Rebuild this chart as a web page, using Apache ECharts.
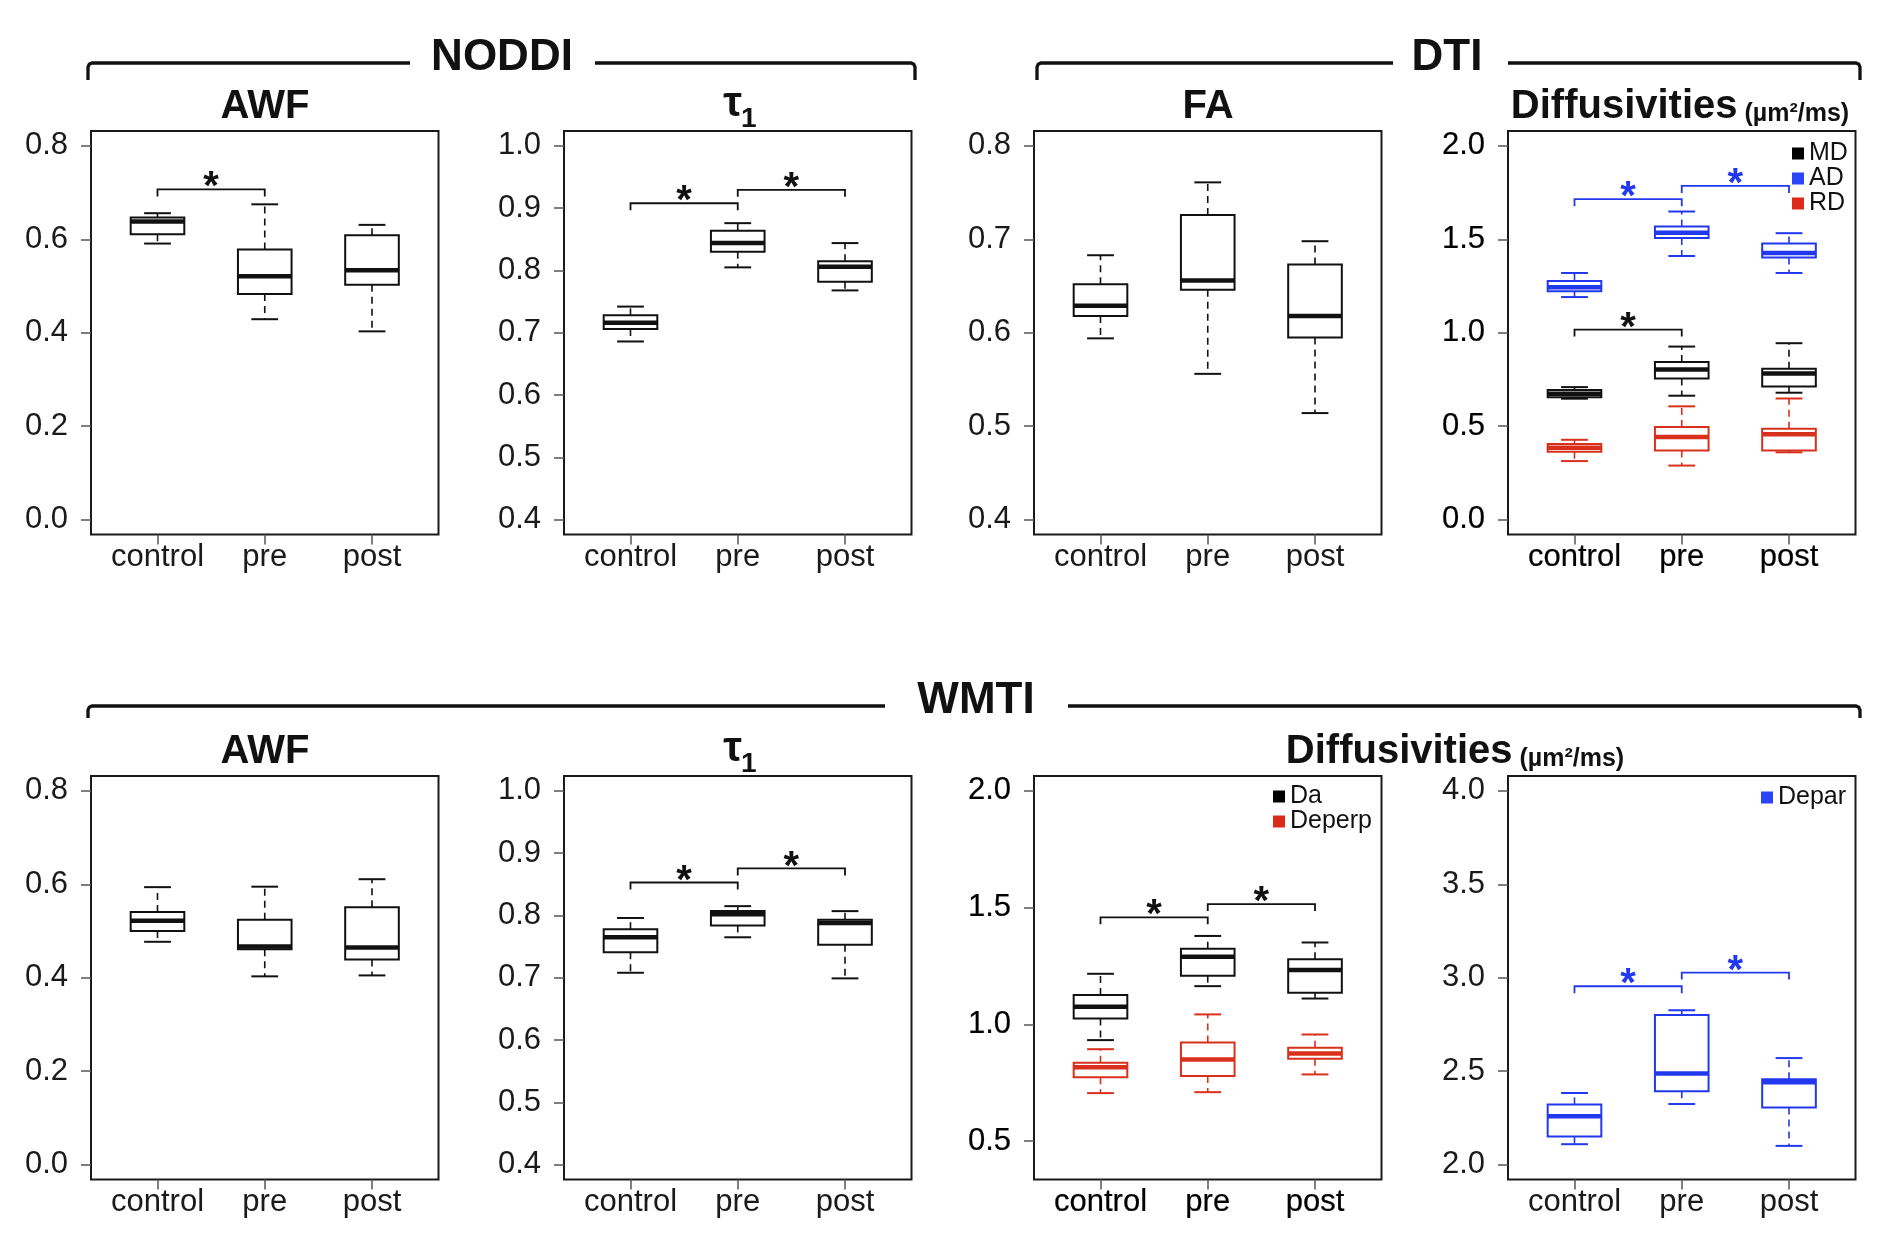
<!DOCTYPE html>
<html>
<head>
<meta charset="utf-8">
<script src="https://cdn.jsdelivr.net/npm/echarts@6/dist/echarts.min.js"></script>
<style>html,body{margin:0;padding:0;background:#fff}#chart{width:1890px;height:1257px}</style>
</head>
<body>
<div id="chart"></div>
<script>
// ---------- data ----------
const categories = ['control', 'pre', 'post'];
// each box: [lower whisker, Q1, median, Q3, upper whisker]
const noddiAWF  = [[0.591, 0.611, 0.638, 0.647, 0.656], [0.429, 0.483, 0.521, 0.578, 0.675], [0.403, 0.503, 0.534, 0.609, 0.631]];
const noddiTau  = [[0.686, 0.706, 0.716, 0.728, 0.742], [0.805, 0.830, 0.844, 0.864, 0.876], [0.768, 0.782, 0.806, 0.815, 0.844]];
const dtiFA     = [[0.594, 0.618, 0.629, 0.652, 0.683], [0.556, 0.646, 0.656, 0.726, 0.761], [0.514, 0.595, 0.618, 0.673, 0.698]];
const dtiMD     = [[0.647, 0.655, 0.673, 0.693, 0.709], [0.663, 0.755, 0.803, 0.844, 0.926], [0.679, 0.712, 0.782, 0.807, 0.944]];
const dtiAD     = [[1.191, 1.222, 1.243, 1.277, 1.320], [1.411, 1.507, 1.535, 1.569, 1.649], [1.320, 1.403, 1.427, 1.478, 1.533]];
const dtiRD     = [[0.313, 0.363, 0.385, 0.404, 0.427], [0.289, 0.370, 0.442, 0.495, 0.606], [0.360, 0.370, 0.456, 0.486, 0.648]];
const wmtiAWF   = [[0.477, 0.500, 0.522, 0.541, 0.594], [0.403, 0.461, 0.467, 0.524, 0.595], [0.405, 0.439, 0.465, 0.551, 0.611]];
const wmtiTau   = [[0.708, 0.741, 0.765, 0.778, 0.796], [0.765, 0.784, 0.802, 0.807, 0.815], [0.699, 0.753, 0.788, 0.793, 0.807]];
const wmtiDa    = [[0.933, 1.026, 1.076, 1.126, 1.217], [1.164, 1.209, 1.290, 1.324, 1.379], [1.111, 1.136, 1.233, 1.279, 1.351]];
const wmtiDeperp= [[0.706, 0.774, 0.817, 0.836, 0.894], [0.710, 0.779, 0.850, 0.923, 1.043], [0.786, 0.853, 0.876, 0.900, 0.957]];
const wmtiDepar = [[2.109, 2.150, 2.258, 2.322, 2.383], [2.324, 2.392, 2.488, 2.801, 2.826], [2.100, 2.306, 2.440, 2.456, 2.570]];

// significance brackets: [from category (1-based), to category, bracket height]
const sigNoddiAWF = [[1, 2, 0.707]];
const sigNoddiTau = [[1, 2, 0.908], [2, 3, 0.9295]];
const sigDtiAD    = [[1, 2, 1.715], [2, 3, 1.786]];
const sigDtiMD    = [[1, 2, 1.017]];
const sigWmtiTau  = [[1, 2, 0.853], [2, 3, 0.8755]];
const sigWmtiDa   = [[1, 2, 1.4586], [2, 3, 1.5157]];
const sigWmtiDepar= [[1, 2, 2.9546], [2, 3, 3.0276]];

// y tick labels
const ticksAWF   = [0.0, 0.2, 0.4, 0.6, 0.8];
const ticksTau   = [0.4, 0.5, 0.6, 0.7, 0.8, 0.9, 1.0];
const ticksFA    = [0.4, 0.5, 0.6, 0.7, 0.8];
const ticksDtiD  = [0.0, 0.5, 1.0, 1.5, 2.0];
const ticksWmtiD = [0.5, 1.0, 1.5, 2.0];
const ticksDepar = [2.0, 2.5, 3.0, 3.5, 4.0];

// ---------- styling ----------
const BLACK = '#111111', BLUE = '#2238ee', RED = '#d8301c';
const FONT = '"Liberation Sans", Arial, Helvetica, sans-serif';

const ROW_TOP = [131, 776];
const COL_LEFT = [91, 564, 1034, 1508];
const PW = 347.5, PH = 403.5;

const panels = [
  {row:0, col:0, ylim:[0,0.8], ticks:ticksAWF, boxes:[{data:noddiAWF, color:BLACK}], sig:[{data:sigNoddiAWF, color:BLACK}]},
  {row:0, col:1, ylim:[0.4,1.0], ticks:ticksTau, boxes:[{data:noddiTau, color:BLACK}], sig:[{data:sigNoddiTau, color:BLACK}]},
  {row:0, col:2, ylim:[0.4,0.8], ticks:ticksFA, boxes:[{data:dtiFA, color:BLACK}], sig:[]},
  {row:0, col:3, ylim:[0,2.0], ticks:ticksDtiD, heavy:true,
    boxes:[{name:'MD', data:dtiMD, color:BLACK}, {name:'AD', data:dtiAD, color:BLUE}, {name:'RD', data:dtiRD, color:RED}],
    sig:[{data:sigDtiAD, color:BLUE}, {data:sigDtiMD, color:BLACK}]},
  {row:1, col:0, ylim:[0,0.8], ticks:ticksAWF, boxes:[{data:wmtiAWF, color:BLACK}], sig:[]},
  {row:1, col:1, ylim:[0.4,1.0], ticks:ticksTau, boxes:[{data:wmtiTau, color:BLACK}], sig:[{data:sigWmtiTau, color:BLACK}]},
  {row:1, col:2, ylim:[0.4,2.0], ticks:ticksWmtiD, heavy:true,
    boxes:[{name:'Da', data:wmtiDa, color:BLACK}, {name:'Deperp', data:wmtiDeperp, color:RED}],
    sig:[{data:sigWmtiDa, color:BLACK}]},
  {row:1, col:3, ylim:[2.0,4.0], ticks:ticksDepar,
    boxes:[{name:'Depar', data:wmtiDepar, color:BLUE}], sig:[{data:sigWmtiDepar, color:BLUE}]}
];

function boxRender(color) {
  return function (params, api) {
    const x = api.value(0);
    const lo = api.coord([x, api.value(1)]);
    const q1 = api.coord([x, api.value(2)]);
    const md = api.coord([x, api.value(3)]);
    const q3 = api.coord([x, api.value(4)]);
    const hi = api.coord([x, api.value(5)]);
    const bw = api.size([0.5, 0])[0];
    const hw = bw / 2, cw = bw / 4, cx = lo[0];
    const dash = {stroke: color, lineWidth: 1.6, lineDash: [7, 5], fill: null};
    const solid = {stroke: color, lineWidth: 2, fill: null};
    return {type: 'group', children: [
      {type: 'line', shape: {x1: cx, y1: q3[1], x2: cx, y2: hi[1]}, style: dash},
      {type: 'line', shape: {x1: cx, y1: q1[1], x2: cx, y2: lo[1]}, style: dash},
      {type: 'line', shape: {x1: cx - cw, y1: hi[1], x2: cx + cw, y2: hi[1]}, style: solid},
      {type: 'line', shape: {x1: cx - cw, y1: lo[1], x2: cx + cw, y2: lo[1]}, style: solid},
      {type: 'rect', shape: {x: cx - hw, y: q3[1], width: bw, height: q1[1] - q3[1]}, style: {stroke: color, lineWidth: 2, fill: 'none'}},
      {type: 'line', shape: {x1: cx - hw, y1: md[1], x2: cx + hw, y2: md[1]}, style: {stroke: color, lineWidth: 4.5, fill: null}}
    ]};
  };
}

function sigRender(color) {
  return function (params, api) {
    const a = api.coord([api.value(0), api.value(2)]);
    const b = api.coord([api.value(1), api.value(2)]);
    return {type: 'group', children: [
      {type: 'polyline', shape: {points: [[a[0], a[1] + 7], [a[0], a[1]], [b[0], b[1]], [b[0], b[1] + 7]]},
        style: {stroke: color, lineWidth: 1.8, fill: null}},
      {type: 'text', x: (a[0] + b[0]) / 2, y: a[1] - 1,
        style: {text: '*', fill: color, font: 'bold 40px ' + FONT, align: 'center', verticalAlign: 'middle'}}
    ]};
  };
}

const grid = [], xAxis = [], yAxis = [], series = [], legend = [];
panels.forEach((p, i) => {
  const span = p.ylim[1] - p.ylim[0];
  grid.push({left: COL_LEFT[p.col], top: ROW_TOP[p.row], width: PW, height: PH,
    show: true, borderColor: '#1a1a1a', borderWidth: 2, backgroundColor: 'transparent', containLabel: false});
  const labelExtra = p.heavy ? {textBorderColor: '#000', textBorderWidth: 0.2, color: '#000'} : {color: '#1a1a1a'};
  xAxis.push({type: 'value', gridIndex: i, min: 0.38, max: 3.62, position: 'bottom',
    axisLine: {show: false, onZero: false}, splitLine: {show: false},
    axisTick: {show: true, customValues: [1, 2, 3], length: 10, lineStyle: {color: '#555', width: 1.5}},
    axisLabel: Object.assign({show: true, customValues: [1, 2, 3], margin: 7, fontSize: 31, fontFamily: FONT,
      formatter: v => categories[Math.round(v) - 1]}, labelExtra)});
  yAxis.push({type: 'value', gridIndex: i, min: p.ylim[0] - 0.04 * span, max: p.ylim[1] + 0.04 * span, position: 'left',
    axisLine: {show: false, onZero: false}, splitLine: {show: false},
    axisTick: {show: true, customValues: p.ticks, length: 10, lineStyle: {color: '#555', width: 1.5}},
    axisLabel: Object.assign({show: true, customValues: p.ticks, margin: 23, fontSize: 31, fontFamily: FONT,
      formatter: v => v.toFixed(1)}, labelExtra)});
  p.boxes.forEach(b => {
    series.push({type: 'custom', name: b.name || ('box' + i), xAxisIndex: i, yAxisIndex: i,
      itemStyle: {color: b.color}, renderItem: boxRender(b.color), clip: false, silent: true,
      encode: {x: 0, y: [1, 2, 3, 4, 5]},
      data: b.data.map((d, k) => [k + 1].concat(d))});
  });
  p.sig.forEach(s => {
    series.push({type: 'custom', name: 'sig' + i + s.color, xAxisIndex: i, yAxisIndex: i,
      renderItem: sigRender(s.color), clip: false, silent: true,
      encode: {x: [0, 1], y: 2}, data: s.data});
  });
});

const legendBase = {orient: 'vertical', icon: 'rect', itemWidth: 12, itemHeight: 12, itemGap: 0, padding: 0,
  selectedMode: false, textStyle: {fontSize: 25, fontFamily: FONT, color: '#111', padding: 0}};
legend.push(Object.assign({}, legendBase, {left: 1792, top: 141,
  textStyle: Object.assign({}, legendBase.textStyle, {lineHeight: 21}),
  data: [{name: 'MD', itemStyle: {color: '#000'}}, {name: 'AD', itemStyle: {color: '#2a45f5'}}, {name: 'RD', itemStyle: {color: '#dd2a18'}}]}));
legend.push(Object.assign({}, legendBase, {left: 1273, top: 784,
  textStyle: Object.assign({}, legendBase.textStyle, {lineHeight: 24}),
  data: [{name: 'Da', itemStyle: {color: '#000'}}, {name: 'Deperp', itemStyle: {color: '#dd2a18'}}]}));
legend.push(Object.assign({}, legendBase, {left: 1761, top: 785,
  textStyle: Object.assign({}, legendBase.textStyle, {lineHeight: 24}),
  data: [{name: 'Depar', itemStyle: {color: '#2a45f5'}}]}));

// ---------- headings & group brackets ----------
const HEAD = 'bold 44px ' + FONT, TITLE = 'bold 40px ' + FONT;
function txt(text, x, y, font, align) {
  return {type: 'text', x: x, y: y, silent: true,
    style: {text: text, font: font, fill: '#111', align: align || 'center', verticalAlign: 'middle'}};
}
function richTitle(x, y) {
  return {type: 'text', x: x, y: y, silent: true,
    style: {text: '{a|Diffusivities}{b| (µm²/ms)}', align: 'center', verticalAlign: 'middle', fill: '#111',
      rich: {a: {font: 'bold 40px ' + FONT, fill: '#111', verticalAlign: 'bottom', lineHeight: 40},
             b: {font: 'bold 25px ' + FONT, fill: '#111', verticalAlign: 'bottom', lineHeight: 25}}}};
}
// bracket: left or right corner going down
function bracket(x1, x2, y, yEnd, side) {
  const pts = side === 'left'
    ? [[x1, yEnd], [x1, y + 4], [x1 + 1.2, y + 1.2], [x1 + 4, y], [x2, y]]
    : [[x1, y], [x2 - 4, y], [x2 - 1.2, y + 1.2], [x2, y + 4], [x2, yEnd]];
  return {type: 'polyline', silent: true, shape: {points: pts}, style: {stroke: '#111', lineWidth: 3.3, fill: null}};
}
const graphic = [
  bracket(88, 410, 63, 80, 'left'),
  bracket(595, 915, 63, 80, 'right'),
  bracket(1037, 1393, 63, 80, 'left'),
  bracket(1508, 1860, 63, 80, 'right'),
  bracket(88, 885, 706, 718, 'left'),
  bracket(1068, 1860, 706, 718, 'right'),
  txt('NODDI', 502, 58, HEAD),
  txt('DTI', 1447, 58, HEAD),
  txt('WMTI', 976, 701, HEAD),
  txt('AWF', 265, 107, TITLE),
  txt('τ', 742, 104.5, 'bold 42px ' + FONT, 'right'),
  txt('1', 741, 119.5, 'bold 28px ' + FONT, 'left'),
  txt('FA', 1208, 107, TITLE),
  richTitle(1680, 107),
  txt('AWF', 265, 752, TITLE),
  txt('τ', 742, 749.5, 'bold 42px ' + FONT, 'right'),
  txt('1', 741, 764.5, 'bold 28px ' + FONT, 'left'),
  richTitle(1455, 752)
];

const chart = echarts.init(document.getElementById('chart'), null, {renderer: 'canvas'});
chart.setOption({animation: false, backgroundColor: '#fff', grid, xAxis, yAxis, series, legend, graphic});
</script>
</body>
</html>
